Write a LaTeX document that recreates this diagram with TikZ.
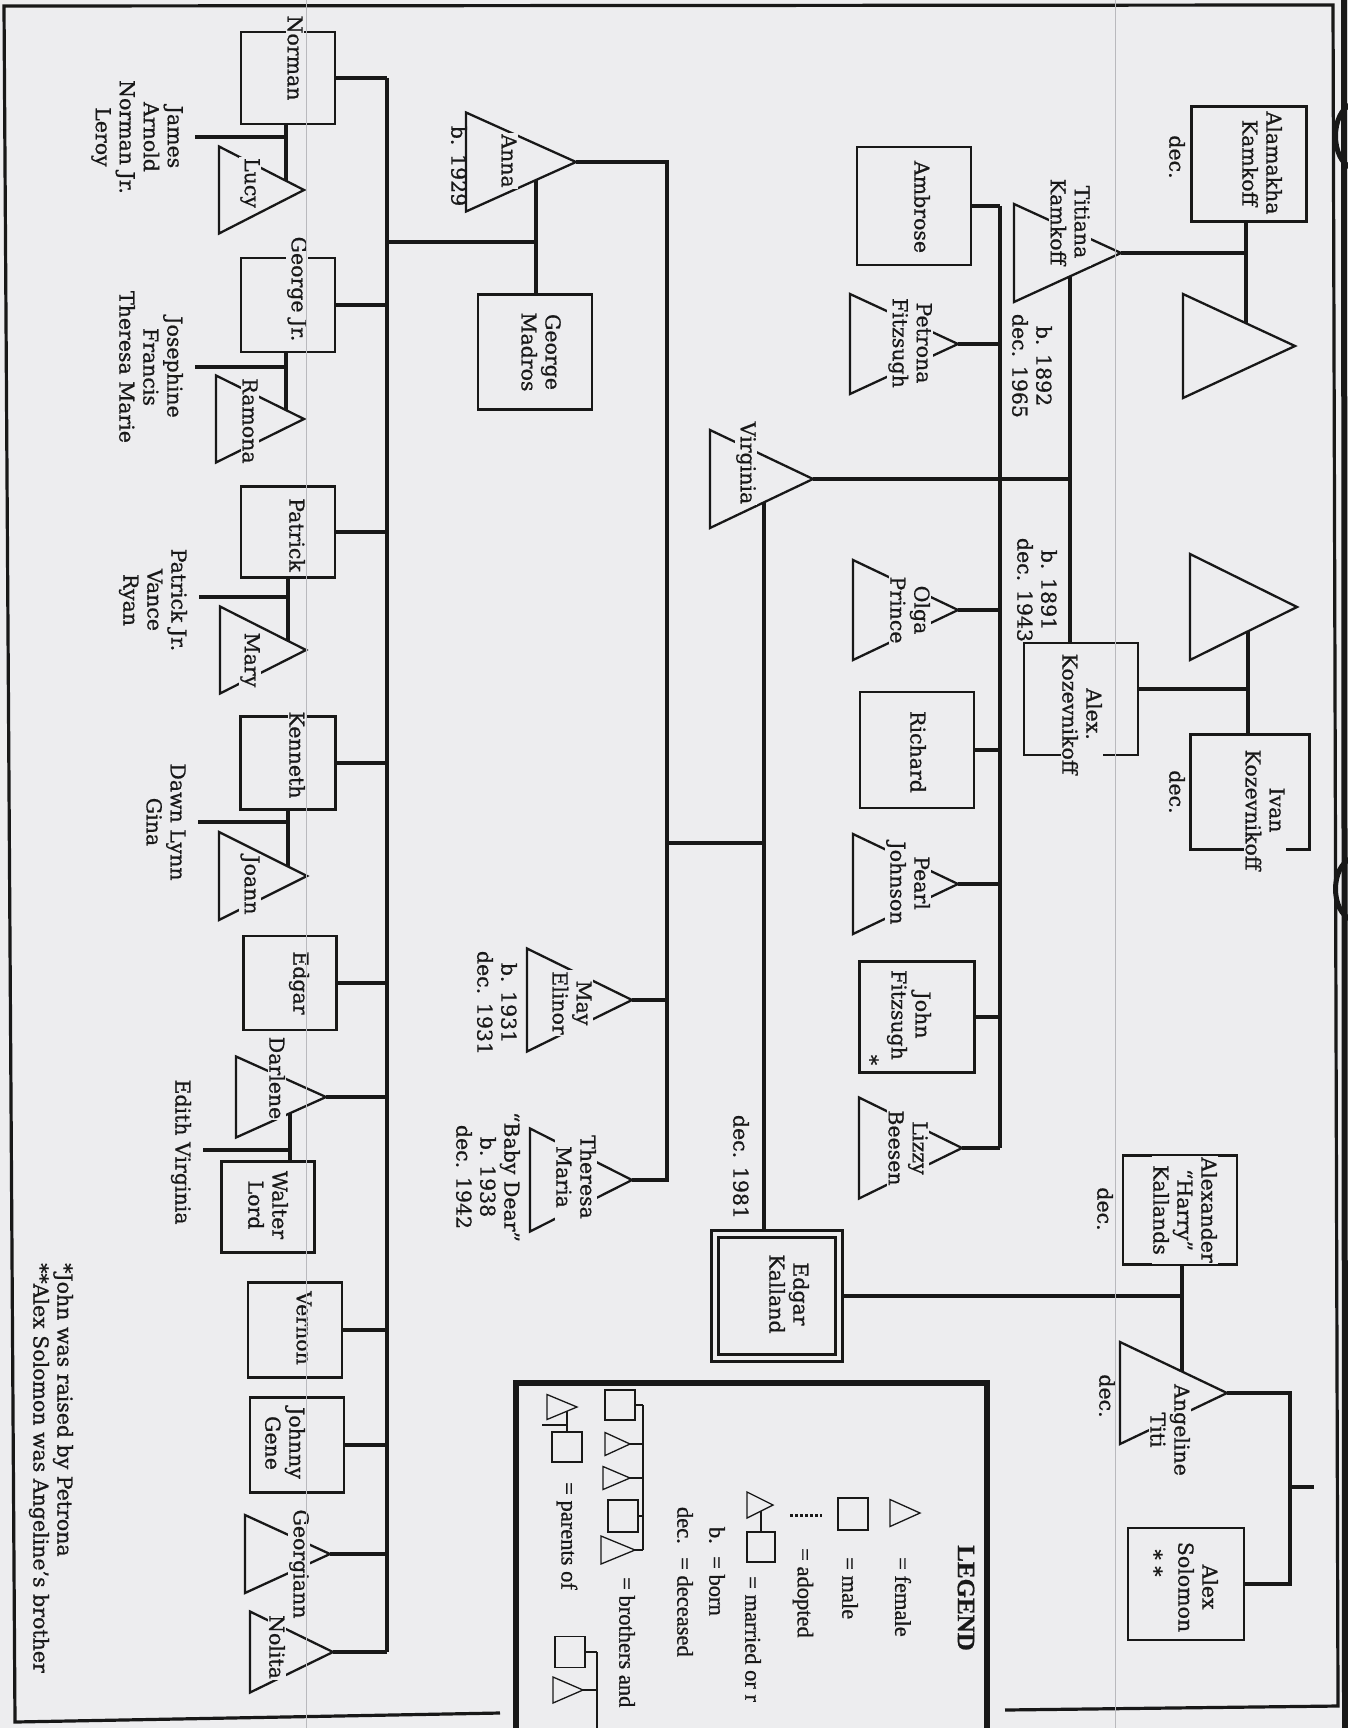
\documentclass[tikz,border=0pt]{standalone}
\usepackage{fontspec}
\setmainfont{DejaVu Serif}[FakeBold=0.8]
\newfontfamily\legendfont{Liberation Serif}[FakeBold=0.8]
\usetikzlibrary{shapes.geometric, backgrounds}
\definecolor{paper}{RGB}{237,237,239}
\definecolor{ink}{RGB}{24,24,24}
\definecolor{fold}{RGB}{185,185,189}

\begin{document}
\begin{tikzpicture}[x=1pt, y=-1pt,
  male/.style={rectangle, draw=ink, line width=2.3pt, fill=paper, inner sep=0pt, outer sep=0pt, minimum width=115pt, minimum height=115pt},
  boy/.style={male, minimum width=94pt, minimum height=93pt},
  female/.style={isosceles triangle, isosceles triangle stretches, shape border rotate=0, draw=ink, line width=2.3pt, fill=paper, inner sep=0pt, outer sep=0pt, anchor=apex, minimum width=100pt, minimum height=106pt},
  girl/.style={female, minimum width=86pt, minimum height=86pt},
  tag/.style={rotate=-90, align=center, fill=paper, inner sep=1pt, text=ink},
  remark/.style={rotate=-90, align=center, inner sep=1pt, text=ink},
  legtext/.style={remark, anchor=west, font=\legendfont\fontsize{22.5}{26}\selectfont},
  legline/.style={draw=ink, line width=1.6pt},
  link/.style={draw=ink, line width=3.1pt},
]
\fontsize{20.5}{24}\selectfont
\useasboundingbox (0,0) rectangle (1348,1728);
\clip (0,0) rectangle (1348,1728);

% frame of the page
\draw[ink, line width=3.2pt] (500,1713) -- (15,1722) -- (4,6) -- (1333,5) -- (1338,1706) -- (1005,1710);
\draw[ink, line width=6pt] (1344,0) -- (1345,1728);
\draw[ink, line width=5pt] (1352,104) .. controls (1330,112) and (1330,160) .. (1352,168);
\draw[ink, line width=5pt] (1352,858) .. controls (1330,866) and (1330,912) .. (1352,920);

% oldest couples
\node[male] (AK) at (1249,164) {};
\node[female, minimum width=104pt, minimum height=112pt] (AKw) at (1295,346) {};
\node[male, minimum width=119pt] (IK) at (1250,792) {};
\node[female, minimum width=106pt, minimum height=107pt] (IKw) at (1297,607) {};
\node[female, minimum width=98pt, minimum height=107pt] (Titiana) at (1121,253) {};
\node[male, minimum width=114pt, minimum height=112pt] (AlexK) at (1081,699) {};

% children of Titiana and Alex
\node[male, minimum height=118pt, minimum width=114pt] (Ambrose) at (914,206) {};
\node[female, minimum height=108pt] (Petrona) at (958,344) {};
\node[female, minimum width=98pt, minimum height=103pt] (Virginia) at (813,479) {};
\node[female, minimum height=105pt] (Olga) at (958,610) {};
\node[male, minimum width=114pt, minimum height=116pt] (Richard) at (917,750) {};
\node[female, minimum height=105pt] (Pearl) at (958,884) {};
\node[male, minimum width=115pt, minimum height=111pt] (John) at (917,1017) {};
\node[female, minimum width=101pt, minimum height=103pt] (Lizzy) at (962,1148) {};

% Kalland side
\node[male, minimum width=114pt, minimum height=109pt] (AKal) at (1180,1210) {};
\node[female, minimum width=102pt, minimum height=107pt] (Angeline) at (1227,1393) {};
\node[male, minimum width=116pt, minimum height=112pt] (AlexS) at (1186,1584) {};
\node[male, minimum size=124pt, double=paper, double distance=4pt, line width=2.6pt] (EK) at (777,1296) {};

% children of Virginia and Edgar
\node[female, minimum width=99pt, minimum height=110pt] (Anna) at (576,162) {};
\node[male, minimum width=114pt] (GM) at (535,352) {};
\node[female, minimum width=103pt, minimum height=105pt] (May) at (632,1000) {};
\node[female, minimum width=103pt, minimum height=102pt] (Theresa) at (632,1180) {};

% children of Anna and George
\node[boy, minimum height=92pt] (Norman) at (288,78) {};
\node[girl, minimum width=87pt, minimum height=85pt] (Lucy) at (304,190) {};
\node[boy, minimum height=94pt] (GeorgeJr) at (288,305) {};
\node[girl, minimum width=87pt, minimum height=88pt] (Ramona) at (304,419) {};
\node[boy, minimum height=91pt] (Patrick) at (288,532) {};
\node[girl, minimum width=87pt] (Mary) at (306,650) {};
\node[boy, minimum width=95pt] (Kenneth) at (288,763) {};
\node[girl, minimum width=88pt, minimum height=88pt] (Joann) at (307,876) {};
\node[boy, minimum width=93pt, minimum height=94pt] (Edgar) at (290,983) {};
\node[girl, minimum width=81pt, minimum height=90pt] (Darlene) at (326,1097) {};
\node[boy, minimum width=93pt, minimum height=91pt] (Walter) at (268,1207) {};
\node[boy, minimum height=95pt] (Vernon) at (295,1330) {};
\node[boy, minimum height=95pt] (Johnny) at (297,1445) {};
\node[girl, minimum width=78pt, minimum height=85pt] (Georgiann) at (330,1554) {};
\node[girl, minimum width=81pt, minimum height=83pt] (Nolita) at (333,1652) {};

% names
\node[tag] (AKl) at (1262,163) {Alamakha\\Kamkoff};
\node[remark] (AKd) at (1177,157) {dec.};
\node[tag] (IKl) at (1265,810) {Ivan\\Kozevnikoff};
\node[remark] (IKd) at (1177,792) {dec.};
\node[tag] (Titianal) at (1070,222) {Titiana\\Kamkoff};
\node[remark] (Titianad) at (1032,366) {b. 1892\\dec. 1965};
\node[tag] (AlexKl) at (1082,714) {Alex.\\Kozevnikoff};
\node[remark] (AlexKd) at (1037,590) {b. 1891\\dec. 1943};
\node[tag] (Ambrosel) at (922,207) {Ambrose};
\node[tag] (Petronal) at (910,343) {Petrona\\Fitzsugh};
\node[tag] (Virginial) at (746,463) {Virginia};
\node[tag] (Olgal) at (910,610) {Olga\\Prince};
\node[tag] (Richardl) at (918,752) {Richard};
\node[tag] (Pearll) at (908,883) {Pearl\\Johnson};
\node[tag] (Johnl) at (909,1015) {John\\Fitzsugh};
\node[remark] (Johns) at (871,1060) {*};
\node[tag] (Lizzyl) at (908,1148) {Lizzy\\Beesen};
\node[tag] (AKall) at (1185,1210) {Alexander\\“Harry”\\Kallands};
\node[remark] (AKald) at (1105,1209) {dec.};
\node[tag] (Angelinel) at (1170,1430) {Angeline\\Titi};
\node[remark] (Angelined) at (1107,1396) {dec.};
\node[tag] (AlexSl) at (1198,1587) {Alex\\Solomon};
\node[remark] (AlexSs) at (1155,1563) {* *};
\node[tag] (EKl) at (789,1294) {Edgar\\Kalland};
\node[remark] (EKd) at (741,1167) {dec. 1981};
\node[tag] (Annal) at (509,161) {Anna};
\node[remark] (Annad) at (459,166) {b. 1929};
\node[tag] (GMl) at (541,352) {George\\Madros};
\node[tag] (Mayl) at (572,1003) {May\\Elinor};
\node[remark] (Mayd) at (497,1003) {b. 1931\\dec. 1931};
\node[tag] (Theresal) at (576,1177) {Theresa\\Maria};
\node[remark] (Theresad) at (488,1177) {“Baby Dear”\\b. 1938\\dec. 1942};
\node[tag] (Normanl) at (295,58) {Norman};
\node[tag] (Lucyl) at (250,183) {Lucy};
\node[remark] (Normankids) at (137,137) {James\\Arnold\\Norman Jr.\\Leroy};
\node[tag] (GeorgeJrl) at (297,289) {George Jr.};
\node[tag] (Ramonal) at (250,421) {Ramona};
\node[remark] (GeorgeJrkids) at (151,367) {Josephine\\Francis\\Theresa Marie};
\node[tag] (Patrickl) at (297,535) {Patrick};
\node[tag] (Maryl) at (250,660) {Mary};
\node[remark] (Patrickkids) at (153,600) {Patrick Jr.\\Vance\\Ryan};
\node[tag] (Kennethl) at (297,755) {Kenneth};
\node[tag] (Joannl) at (250,885) {Joann};
\node[remark] (Kennethkids) at (166,822) {Dawn Lynn\\Gina};
\node[tag] (Edgarl) at (299,983) {Edgar};
\node[tag] (Darlenel) at (277,1078) {Darlene};
\node[tag] (Walterl) at (268,1205) {Walter\\Lord};
\node[remark] (Edgarkids) at (181,1152) {Edith Virginia};
\node[tag] (Vernonl) at (304,1328) {Vernon};
\node[tag] (Johnnyl) at (285,1443) {Johnny\\Gene};
\node[tag] (Georgiannl) at (299,1564) {Georgiann};
\node[tag] (Nolital) at (277,1647) {Nolita};

% footnotes
\node[remark, anchor=west, align=left] (notes) at (51,1262) {*John was raised by Petrona\\**Alex Solomon was Angeline’s brother};

% legend
\draw[ink, line width=5.5pt] (516,1760) -- (516,1383) -- (987,1383) -- (987,1760);
\node[remark, font=\legendfont\fontsize{25}{28}\selectfont\bfseries] (legtitle) at (966,1598) {LEGEND};
\node[female, line width=1.3pt, minimum width=27pt, minimum height=30pt] (legF) at (920,1513) {};
\node[legtext] (legFt) at (903,1556) {= female};
\node[male, line width=1.3pt, minimum width=30pt, minimum height=32pt] (legM) at (853,1514) {};
\node[legtext] (legMt) at (850,1556) {= male};
\coordinate (legA1) at (790,1515);
\coordinate (legA2) at (822,1515);
\draw[ink, line width=3pt, dotted] (legA1) -- (legA2);
\node[legtext] (legAt) at (803,1547) {= adopted};
\node[female, line width=1.3pt, minimum width=26pt, minimum height=26pt] (legWf) at (773,1505) {};
\node[male, line width=1.3pt, minimum width=28pt, minimum height=30pt] (legWm) at (761,1547) {};
\node[legtext] (legWt) at (753,1575) {= married or r};
\node[legtext, anchor=east] (legB) at (717,1545) {b.};
\node[legtext] (legBt) at (717,1555) {= born};
\node[legtext, anchor=east] (legD) at (685,1545) {dec.};
\node[legtext] (legDt) at (685,1556) {= deceased};
\node[male, line width=1.3pt, minimum size=30pt] (legS1) at (620,1405) {};
\node[female, line width=1.3pt, minimum width=23pt, minimum height=25pt] (legS2) at (630,1444) {};
\node[female, line width=1.3pt, minimum width=23pt, minimum height=27pt] (legS3) at (630,1478) {};
\node[male, line width=1.3pt, minimum width=30pt, minimum height=32pt] (legS4) at (623,1516) {};
\node[female, line width=1.3pt, minimum width=28pt, minimum height=34pt] (legS5) at (635,1550) {};
\node[legtext] (legSt) at (627,1576) {= brothers and};
\node[female, line width=1.3pt, minimum width=25pt, minimum height=30pt] (legPf) at (577,1407) {};
\node[male, line width=1.3pt, minimum size=30pt] (legPm) at (567,1447) {};
\node[legtext] (legPt) at (567,1481) {= parents of};
\node[male, line width=1.3pt, minimum width=30pt, minimum height=31pt] (legC1) at (570,1652) {};
\node[female, line width=1.3pt, minimum width=26pt, minimum height=30pt] (legC2) at (583,1690) {};

% connectors
\begin{scope}[on background layer]
\fill[paper] (0,0) rectangle (1348,1728);
\coordinate (akm) at (1246,0);
\draw[link] (AK.south -| akm) -- (akm |- AKw.apex);
\draw[link] (akm |- Titiana.apex) -- (Titiana.apex);
\coordinate (ikm) at (1248,0);
\coordinate (ikid) at (1248,689);
\draw[link] (ikm |- IKw.apex) -- (IK.north -| ikm);
\draw[link] (AlexK.east |- ikid) -- (ikid);
\coordinate (tam) at (1070,0);
\draw[link] (tam |- Titiana.apex) -- (AlexK.north -| tam);
\draw[link] (tam |- Virginia.apex) -- (Virginia.apex);
\coordinate (sib1) at (1000,0);
\draw[link] (sib1 |- Ambrose.east) -- (sib1 |- Lizzy.apex);
\draw[link] (Ambrose.east) -- (Ambrose.east -| sib1);
\draw[link] (Petrona.apex) -- (Petrona.apex -| sib1);
\draw[link] (Olga.apex) -- (Olga.apex -| sib1);
\draw[link] (Richard.east) -- (Richard.east -| sib1);
\draw[link] (Pearl.apex) -- (Pearl.apex -| sib1);
\draw[link] (John.east) -- (John.east -| sib1);
\draw[link] (Lizzy.apex) -- (Lizzy.apex -| sib1);
% Virginia and Edgar
\coordinate (vem) at (764,0);
\coordinate (vekid) at (764,843);
\coordinate (sib2) at (667,0);
\draw[link] (vem |- Virginia.apex) -- (EK.north -| vem);
\draw[link] (vekid) -- (vekid -| sib2);
\draw[link] (Anna.apex) -- (Anna.apex -| sib2) -- (sib2 |- Theresa.apex) -- (Theresa.apex);
\draw[link] (May.apex) -- (May.apex -| sib2);
% Kalland
\coordinate (kam) at (1182,0);
\coordinate (sib4) at (1290,0);
\coordinate (stub) at (1314,1487);
\draw[link] (AKal.south -| kam) -- (kam |- Angeline.apex);
\draw[link] (EK.east) -- (EK.east -| kam);
\draw[link] (Angeline.apex) -- (Angeline.apex -| sib4) -- (sib4 |- AlexS.east) -- (AlexS.east);
\draw[link] (sib4 |- stub) -- (stub);
% Anna and George
\coordinate (agm) at (536,0);
\coordinate (agkid) at (536,242);
\coordinate (sib3) at (387,0);
\draw[link] (agm |- Anna.apex) -- (GM.north -| agm);
\draw[link] (agkid) -- (agkid -| sib3);
\draw[link] (sib3 |- Norman.east) -- (sib3 |- Nolita.apex);
\foreach \n in {Norman, GeorgeJr, Patrick, Kenneth, Edgar, Vernon, Johnny}
  \draw[link] (\n.east) -- (\n.east -| sib3);
\foreach \n in {Darlene, Georgiann, Nolita}
  \draw[link] (\n.apex) -- (\n.apex -| sib3);
% grandchildren couples
\coordinate (m1) at (286,137);
\coordinate (m2) at (286,367);
\coordinate (m3) at (288,597);
\coordinate (m4) at (288,822);
\coordinate (m5) at (290,1150);
\draw[link] (Norman.south -| m1) -- (m1 |- Lucy.apex);
\draw[link, shorten >=11pt] (m1) -- (m1 -| Normankids.north);
\draw[link] (GeorgeJr.south -| m2) -- (m2 |- Ramona.apex);
\draw[link, shorten >=11pt] (m2) -- (m2 -| GeorgeJrkids.north);
\draw[link] (Patrick.south -| m3) -- (m3 |- Mary.apex);
\draw[link, shorten >=11pt] (m3) -- (m3 -| Patrickkids.north);
\draw[link] (Kenneth.south -| m4) -- (m4 |- Joann.apex);
\draw[link, shorten >=11pt] (m4) -- (m4 -| Kennethkids.north);
\draw[link] (m5 |- Darlene.apex) -- (Walter.north -| m5);
\draw[link, shorten >=11pt] (m5) -- (m5 -| Edgarkids.north);
% legend lines
\coordinate (legSl) at (643,0);
\coordinate (legCl) at (597,0);
\coordinate (legPk) at (542,1425);
\draw[legline] (legWf.apex -| legWm) -- (legWm.north);
\draw[legline] (legPf.apex -| legPm) -- (legPm.north);
\draw[legline] (legPk) -- (legPk -| legPm);
\draw[legline] (legSl |- legS1.east) -- (legSl |- legS5.apex);
\foreach \n in {legS1, legS4} \draw[legline] (\n.east) -- (\n.east -| legSl);
\foreach \n in {legS2, legS3, legS5} \draw[legline] (\n.apex) -- (\n.apex -| legSl);
\draw[legline] (legCl |- legC1.east) -- (legCl |- 0,1740);
\draw[legline] (legC1.east) -- (legC1.east -| legCl);
\draw[legline] (legC2.apex) -- (legC2.apex -| legCl);
\end{scope}

% folds of the scanned sheet
\draw[fold, line width=0.9pt] (306,0) -- (306,1728);
\draw[fold, line width=0.9pt] (1115,0) -- (1115,1728);
\end{tikzpicture}
\end{document}
